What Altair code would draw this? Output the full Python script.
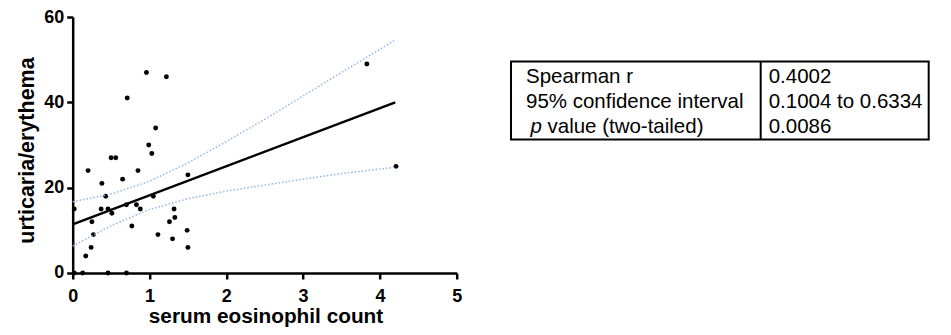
import altair as alt
import pandas as pd

# ---- data ----
eosinophils = [0.02, 0.20, 0.17, 0.25, 0.27, 0.24, 0.38, 0.37, 0.43, 0.46, 0.51, 0.50, 0.56,
               0.65, 0.70, 0.71, 0.85, 0.83, 0.77, 0.88, 0.96, 0.99, 1.03, 1.08, 1.05, 1.11,
               1.22, 1.26, 1.32, 1.33, 1.30, 1.50, 1.49, 1.50, 3.83, 4.21, 0.02, 0.13, 0.46, 0.70]
urticaria = [15, 24, 4, 12, 9, 6, 21, 15, 18, 15, 14, 27, 27,
             22, 16, 41, 24, 16, 11, 15, 47, 30, 28, 34, 18, 9,
             46, 12, 15, 13, 8, 23, 10, 6, 49, 25, 0, 0, 0, 0]

fit_x = [0.0, 4.2]
fit_y = [11.4, 40.0]

band_x = [0.0, 0.5, 1.0, 1.5, 2.0, 2.5, 3.0, 3.5, 4.2]
band_upper = [16.7, 18.5, 21.5, 25.8, 30.8, 36.0, 41.5, 47.0, 54.6]
band_lower = [6.3, 11.1, 14.9, 17.4, 19.2, 20.6, 22.0, 23.3, 24.8]

x_ticks = [0, 1, 2, 3, 4, 5]
y_ticks = [0, 20, 40, 60]

table_labels = ["Spearman r", "95% confidence interval", "value (two-tailed)"]
table_values = ["0.4002", "0.1004 to 0.6334", "0.0086"]

# ---- frames ----
pts = pd.DataFrame({"x": eosinophils, "y": urticaria})
fit = pd.DataFrame({"x": fit_x, "y": fit_y})
band = pd.DataFrame({"x": band_x, "upper": band_upper, "lower": band_lower})
one = pd.DataFrame({"k": [0]})

FONT = "Liberation Sans"
xscale = alt.Scale(domain=[0, 5], nice=False, zero=False)
yscale = alt.Scale(domain=[0, 60], nice=False, zero=False)

xaxis = alt.Axis(values=x_ticks, format="d", title="serum eosinophil count", grid=False,
                 domainColor="black", domainWidth=2.5, tickColor="black", tickWidth=2.5,
                 tickSize=6, labelFont=FONT, labelFontSize=18, labelFontWeight="bold",
                 labelColor="black", labelPadding=8.5, labelFlush=False,
                 titleFont=FONT, titleFontSize=20.8, titleFontWeight="bold", titleColor="black",
                 titleBaseline="alphabetic", titleY=50, titleX=192.8, titleAnchor="middle")
yaxis = alt.Axis(values=y_ticks, format="d", title="urticaria/erythema", grid=False,
                 domainColor="black", domainWidth=2.5, tickColor="black", tickWidth=2.5,
                 tickSize=6, labelFont=FONT, labelFontSize=18, labelFontWeight="bold",
                 labelColor="black", labelPadding=3, labelFlush=False,
                 titleFont=FONT, titleFontSize=21.5, titleFontWeight="bold", titleColor="black",
                 titleBaseline="alphabetic", titleAngle=270, titleX=-39.4, titleY=133,
                 titleAlign="center")

points = alt.Chart(pts).mark_circle(color="black", opacity=1, size=24).encode(
    x=alt.X("x:Q", scale=xscale, axis=xaxis),
    y=alt.Y("y:Q", scale=yscale, axis=yaxis),
)

fit_line = alt.Chart(fit).mark_line(color="black", strokeWidth=2.5).encode(
    x=alt.X("x:Q", scale=xscale, axis=xaxis),
    y=alt.Y("y:Q", scale=yscale, axis=yaxis),
)

upper_line = alt.Chart(band).mark_line(color="#8fb8ea", strokeWidth=1.5, strokeDash=[1.5, 2]).encode(
    x=alt.X("x:Q", scale=xscale, axis=xaxis),
    y=alt.Y("upper:Q", scale=yscale, axis=yaxis),
)
lower_line = alt.Chart(band).mark_line(color="#8fb8ea", strokeWidth=1.5, strokeDash=[1.5, 2]).encode(
    x=alt.X("x:Q", scale=xscale, axis=xaxis),
    y=alt.Y("lower:Q", scale=yscale, axis=yaxis),
)

# ---- statistics table (pixel layout relative to plot origin) ----
TX0, TX1, TDIV = 438.3, 856.0, 688.0
TY0, TY1 = 44.5, 122.5
ROW0, ROWSTEP = 65.5, 25.0
TFS = 20.5

table_layers = [
    alt.Chart(one).mark_rect(fillOpacity=0, stroke="black", strokeWidth=2).encode(
        x=alt.value(TX0), x2=alt.value(TX1), y=alt.value(TY0), y2=alt.value(TY1)),
    alt.Chart(one).mark_rule(color="black", strokeWidth=2).encode(
        x=alt.value(TDIV), y=alt.value(TY0), y2=alt.value(TY1)),
    alt.Chart(one).mark_text(align="left", baseline="alphabetic", font=FONT, fontSize=TFS,
                             fontStyle="italic", color="black", text="p").encode(
        x=alt.value(457.8), y=alt.value(ROW0 + 2 * ROWSTEP)),
]
for i, (lab, val) in enumerate(zip(table_labels, table_values)):
    lx = 474.8 if i == 2 else 453.3
    table_layers.append(
        alt.Chart(one).mark_text(align="left", baseline="alphabetic", font=FONT, fontSize=TFS,
                                 color="black", text=lab).encode(
            x=alt.value(lx), y=alt.value(ROW0 + i * ROWSTEP)))
    table_layers.append(
        alt.Chart(one).mark_text(align="left", baseline="alphabetic", font=FONT, fontSize=TFS,
                                 color="black", text=val).encode(
            x=alt.value(TDIV + 8), y=alt.value(ROW0 + i * ROWSTEP)))

chart = alt.layer(points, upper_line, lower_line, fit_line, *table_layers).properties(
    width=384, height=256,
    autosize=alt.AutoSizeParams(type="none"),
    padding={"left": 64.7, "top": 9, "right": 480, "bottom": 56},
    background="white",
).configure_view(strokeWidth=0)

chart.save("out.html", embed_options={"renderer": "svg", "actions": False})
